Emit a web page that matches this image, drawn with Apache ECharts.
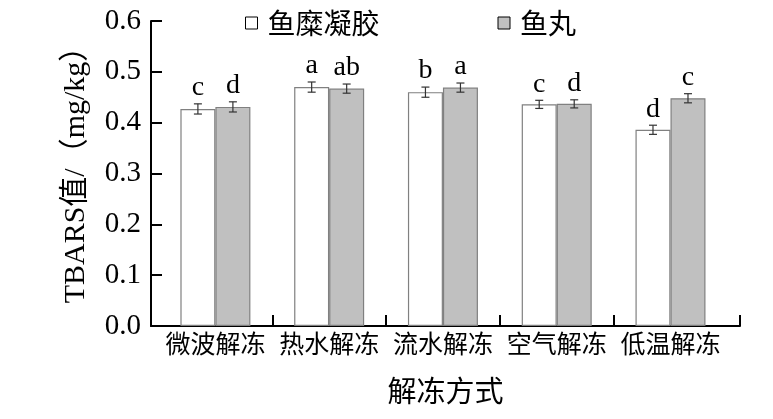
<!DOCTYPE html>
<html>
<head>
<meta charset="utf-8">
<script src="https://cdn.jsdelivr.net/npm/echarts@6/dist/echarts.min.js"></script>
<style>
html,body{margin:0;padding:0;background:#fff;}
#chart{width:773px;height:419px;}
</style>
</head>
<body>
<div id="chart"></div>
<script>
// ---- data ----
const categories = ['微波解冻', '热水解冻', '流水解冻', '空气解冻', '低温解冻'];
const seriesNames = ['鱼糜凝胶', '鱼丸'];
const surimi = [0.427, 0.470, 0.460, 0.436, 0.386];
const fishball = [0.431, 0.467, 0.469, 0.437, 0.448];
const surimiErr = [0.010, 0.010, 0.010, 0.008, 0.009];
const fishballErr = [0.010, 0.009, 0.009, 0.008, 0.009];
const surimiLetters = ['c', 'a', 'b', 'c', 'd'];
const fishballLetters = ['d', 'ab', 'a', 'd', 'c'];
const yTicks = [0, 0.1, 0.2, 0.3, 0.4, 0.5, 0.6];

// ---- style ----
const BAR_W = 35;
const SERIF = "'Liberation Serif', 'Times New Roman', serif";
const MIXED = "'Liberation Serif', 'Noto Sans CJK SC', serif";
const CJK = "'Noto Sans CJK SC', sans-serif";
const X_MIN = -0.566, X_MAX = 4.611;

function errSeries(vals, errs, letters, dir) {
  return {
    type: 'custom',
    z: 10,
    silent: true,
    data: vals.map((v, i) => [i, v]),
    renderItem: function (params, api) {
      const i = params.dataIndex;
      const base = api.coord([i, vals[i]]);
      const x = base[0] + dir * BAR_W / 2;
      const yTop = api.coord([i, vals[i] + errs[i]])[1];
      const yBot = api.coord([i, vals[i] - errs[i]])[1];
      const cap = 4;
      const ls = { stroke: '#333', lineWidth: 1.2 };
      return {
        type: 'group',
        children: [
          { type: 'line', shape: { x1: x, y1: yTop, x2: x, y2: yBot }, style: ls },
          { type: 'line', shape: { x1: x - cap, y1: yTop, x2: x + cap, y2: yTop }, style: ls },
          { type: 'line', shape: { x1: x - cap, y1: yBot, x2: x + cap, y2: yBot }, style: ls },
          { type: 'text', x: x, y: yTop - 2,
            style: { text: letters[i], fontSize: 28, fontFamily: SERIF, fill: '#000',
                     align: 'center', verticalAlign: 'bottom' } }
        ]
      };
    }
  };
}

const chart = echarts.init(document.getElementById('chart'));
chart.setOption({
  animation: false,
  backgroundColor: '#fff',
  grid: { left: 151, right: 33, top: 21, bottom: 93 },
  legend: {
    data: seriesNames.map(n => ({ name: n, icon: 'rect' })),
    left: 245,
    top: 9,
    padding: 0,
    itemWidth: 12,
    itemHeight: 12,
    itemGap: 118,
    itemStyle: { borderColor: '#000', borderWidth: 1 },
    textStyle: { fontSize: 28, fontFamily: CJK, color: '#000', padding: [0, 0, 0, 5] }
  },
  xAxis: {
    type: 'value',
    min: X_MIN,
    max: X_MAX,
    splitLine: { show: false },
    axisLine: { show: true, onZero: false, lineStyle: { color: '#000', width: 2 } },
    axisTick: { show: true, inside: true, length: 11, lineStyle: { color: '#000', width: 2 },
                customValues: [0.5, 1.5, 2.5, 3.5, X_MAX] },
    axisLabel: {
      customValues: [0, 1, 2, 3, 4],
      formatter: function (v) { return categories[Math.round(v)] || ''; },
      fontSize: 25, fontFamily: CJK, color: '#000', margin: 5
    },
    name: '解冻方式',
    nameLocation: 'middle',
    nameGap: 50,
    nameTextStyle: { fontSize: 29, fontFamily: CJK, color: '#000' }
  },
  yAxis: {
    type: 'value',
    min: yTicks[0],
    max: yTicks[yTicks.length - 1],
    interval: 0.1,
    splitLine: { show: false },
    axisLine: { show: true, onZero: false, lineStyle: { color: '#000', width: 2 } },
    axisTick: { show: true, inside: true, length: 11, lineStyle: { color: '#000', width: 2 } },
    axisLabel: {
      formatter: function (v) { return v.toFixed(1); },
      fontSize: 29, fontFamily: SERIF, color: '#000', margin: 10
    },
    name: 'TBARS值/（mg/kg）',
    nameLocation: 'middle',
    nameGap: 60,
    nameTextStyle: { fontSize: 30, fontFamily: MIXED, color: '#000', padding: [0, 0, 0, 12] }
  },
  series: [
    {
      name: seriesNames[0],
      type: 'bar',
      barWidth: BAR_W,
      barGap: '0%',
      data: surimi.map((v, i) => [i, v]),
      itemStyle: { color: '#ffffff', borderColor: '#808080', borderWidth: 1.2 }
    },
    {
      name: seriesNames[1],
      type: 'bar',
      barWidth: BAR_W,
      barGap: '0%',
      data: fishball.map((v, i) => [i, v]),
      itemStyle: { color: '#c0c0c0', borderColor: '#808080', borderWidth: 1.2 }
    },
    errSeries(surimi, surimiErr, surimiLetters, -1),
    errSeries(fishball, fishballErr, fishballLetters, 1)
  ]
});
</script>
</body>
</html>
